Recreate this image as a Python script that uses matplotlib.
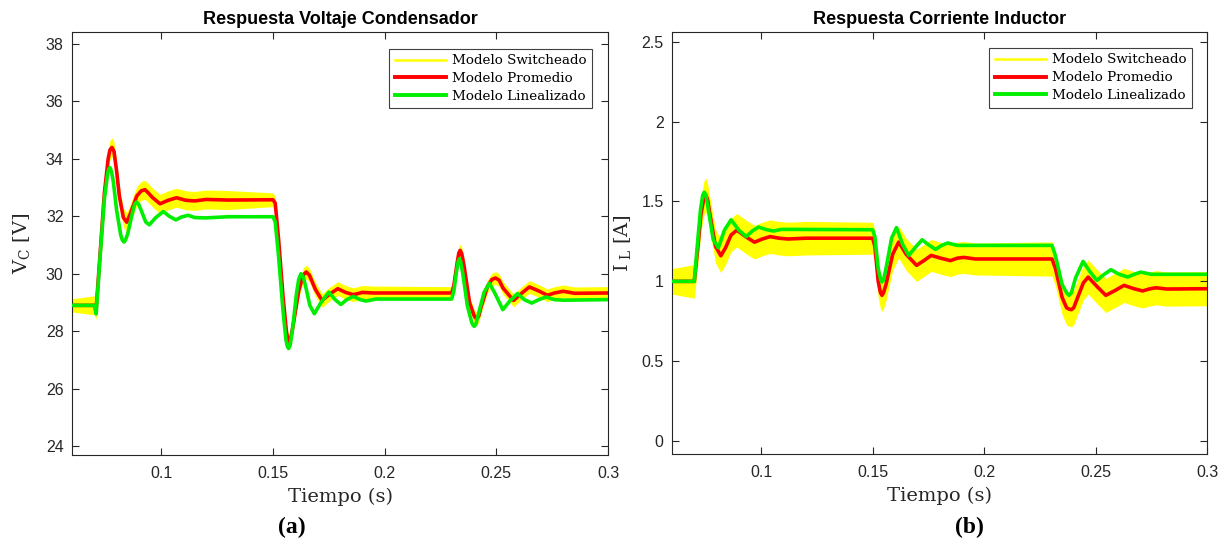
import numpy as np
import matplotlib
matplotlib.use("Agg")
import matplotlib.pyplot as plt
from matplotlib.lines import Line2D

# ---------------- Capacitor voltage V_C [V] ----------------
vc_prom_t = [0.060, 0.0700, 0.0708, 0.0725, 0.0745, 0.0762, 0.0770, 0.0779, 0.0788, 0.0800,
             0.0812, 0.0830, 0.0845, 0.0862, 0.0890, 0.0910, 0.0927, 0.0945, 0.0960, 0.0994,
             0.1030, 0.1068, 0.1110, 0.1150, 0.1200, 0.1300, 0.1500, 0.1510, 0.1525, 0.1545,
             0.1560, 0.1566, 0.1572, 0.1580, 0.1590, 0.1615, 0.1635, 0.1649, 0.1663, 0.1690,
             0.1720, 0.1755, 0.1790, 0.1825, 0.1860, 0.1900, 0.1950, 0.2300, 0.2310, 0.2325,
             0.2332, 0.2338, 0.2345, 0.2355, 0.2380, 0.2400, 0.2406, 0.2413, 0.2421, 0.2430,
             0.2460, 0.2480, 0.2496, 0.2512, 0.2530, 0.2577, 0.2610, 0.2648, 0.2690, 0.2729,
             0.2760, 0.2800, 0.2850, 0.3000]
vc_prom_v = [28.90, 28.90, 28.75, 30.60, 32.80, 34.00, 34.30, 34.39, 34.25, 33.55,
             32.70, 31.95, 31.79, 32.10, 32.70, 32.88, 32.92, 32.78, 32.65, 32.43,
             32.55, 32.64, 32.55, 32.53, 32.58, 32.56, 32.57, 32.45, 31.20, 29.20,
             28.00, 27.72, 27.63, 27.78, 28.20, 29.40, 29.95, 30.06, 29.95, 29.45,
             29.07, 29.30, 29.48, 29.35, 29.27, 29.35, 29.33, 29.33, 29.60, 30.40,
             30.72, 30.81, 30.70, 30.30, 29.00, 28.55, 28.47, 28.44, 28.52, 28.80,
             29.55, 29.80, 29.85, 29.78, 29.50, 29.07, 29.30, 29.54, 29.40, 29.25,
             29.33, 29.39, 29.32, 29.33]

vc_lin_t = [0.060, 0.0700, 0.0708, 0.0725, 0.0745, 0.0760, 0.0765, 0.0770, 0.0777, 0.0785,
            0.0800, 0.0818, 0.0826, 0.0833, 0.0840, 0.0850, 0.0870, 0.0880, 0.0889, 0.0898,
            0.0910, 0.0930, 0.0946, 0.0975, 0.1009, 0.1035, 0.1065, 0.1090, 0.1120, 0.1150,
            0.1200, 0.1300, 0.1500, 0.1510, 0.1525, 0.1545, 0.1558, 0.1564, 0.1570, 0.1577,
            0.1588, 0.1605, 0.1615, 0.1625, 0.1635, 0.1645, 0.1665, 0.1685, 0.1715, 0.1750,
            0.1778, 0.1804, 0.1830, 0.1860, 0.1890, 0.1917, 0.1960, 0.2300, 0.2310, 0.2322,
            0.2329, 0.2335, 0.2341, 0.2350, 0.2370, 0.2390, 0.2396, 0.2401, 0.2408, 0.2420,
            0.2445, 0.2469, 0.2495, 0.2529, 0.2560, 0.2595, 0.2625, 0.2659, 0.2690, 0.2723,
            0.2760, 0.2800, 0.3000]
vc_lin_v = [28.90, 28.90, 28.60, 30.50, 32.60, 33.50, 33.64, 33.69, 33.55, 33.20,
            32.20, 31.35, 31.16, 31.10, 31.18, 31.40, 32.10, 32.40, 32.49, 32.42,
            32.20, 31.80, 31.70, 31.95, 32.16, 32.00, 31.87, 31.97, 32.03, 31.95,
            31.94, 31.98, 31.98, 31.80, 30.60, 28.70, 27.70, 27.48, 27.40, 27.52,
            28.10, 29.30, 29.80, 30.00, 29.90, 29.60, 28.90, 28.61, 29.00, 29.36,
            29.10, 28.93, 29.10, 29.21, 29.10, 29.05, 29.12, 29.12, 29.40, 30.10,
            30.42, 30.52, 30.40, 30.00, 28.90, 28.30, 28.21, 28.17, 28.24, 28.60,
            29.35, 29.67, 29.30, 28.75, 29.05, 29.31, 29.10, 28.98, 29.10, 29.19,
            29.10, 29.08, 29.10]

# ---------------- Inductor current I_L [A] ----------------
il_prom_t = [0.060, 0.0700, 0.0715, 0.0730, 0.0743, 0.0751, 0.0759, 0.0770, 0.0795, 0.0819,
             0.0840, 0.0865, 0.0891, 0.0930, 0.0970, 0.1005, 0.1040, 0.1080, 0.1120, 0.1200,
             0.1500, 0.1510, 0.1525, 0.1535, 0.1542, 0.1549, 0.1560, 0.1590, 0.1617, 0.1650,
             0.1697, 0.1730, 0.1763, 0.1805, 0.1849, 0.1880, 0.1909, 0.1960, 0.2305, 0.2320,
             0.2350, 0.2370, 0.2382, 0.2392, 0.2402, 0.2420, 0.2445, 0.2467, 0.2505, 0.2546,
             0.2590, 0.2628, 0.2670, 0.2711, 0.2740, 0.2771, 0.2820, 0.3000]
il_prom_v = [1.000, 1.000, 1.200, 1.420, 1.520, 1.540, 1.515, 1.420, 1.220, 1.160,
             1.210, 1.290, 1.320, 1.280, 1.245, 1.265, 1.280, 1.270, 1.265, 1.270,
             1.270, 1.220, 1.000, 0.930, 0.9125, 0.930, 0.980, 1.170, 1.246, 1.170,
             1.100, 1.130, 1.1625, 1.145, 1.130, 1.145, 1.150, 1.140, 1.140, 1.080,
             0.900, 0.835, 0.826, 0.823, 0.835, 0.900, 0.990, 1.027, 0.970, 0.9125,
             0.945, 0.975, 0.955, 0.940, 0.952, 0.960, 0.952, 0.954]

il_lin_t = [0.060, 0.0700, 0.0712, 0.0728, 0.0738, 0.0745, 0.0752, 0.0763, 0.0785, 0.0808,
            0.0835, 0.0865, 0.0900, 0.0933, 0.0960, 0.0988, 0.1020, 0.1055, 0.1090, 0.1150,
            0.1500, 0.1510, 0.1525, 0.1536, 0.1542, 0.1549, 0.1560, 0.1585, 0.1607, 0.1635,
            0.1662, 0.1690, 0.1722, 0.1750, 0.1782, 0.1810, 0.1837, 0.1880, 0.2305, 0.2320,
            0.2350, 0.2372, 0.2381, 0.2392, 0.2410, 0.2444, 0.2475, 0.2506, 0.2535, 0.2569,
            0.2605, 0.2644, 0.2675, 0.2703, 0.2750, 0.3000]
il_lin_v = [1.000, 1.000, 1.200, 1.450, 1.540, 1.558, 1.540, 1.450, 1.260, 1.210,
            1.320, 1.385, 1.320, 1.280, 1.315, 1.340, 1.325, 1.315, 1.325, 1.325,
            1.323, 1.280, 1.080, 1.010, 0.996, 1.010, 1.080, 1.270, 1.336, 1.230,
            1.1625, 1.210, 1.260, 1.230, 1.200, 1.225, 1.240, 1.225, 1.225, 1.160,
            0.980, 0.925, 0.9125, 0.930, 1.020, 1.125, 1.060, 1.006, 1.040, 1.073,
            1.045, 1.027, 1.045, 1.058, 1.044, 1.044]

# Switching ripple (half peak-to-peak) of the switched model, per operating interval
ripple_edges = [0.07, 0.15, 0.23]
vc_ripple = [0.23, 0.33, 0.24, 0.22]
il_ripple = [0.08, 0.105, 0.10, 0.107]

xticks = [0.1, 0.15, 0.2, 0.25, 0.3]
xtick_labels = ["0.1", "0.15", "0.2", "0.25", "0.3"]
vc_yticks = [24, 26, 28, 30, 32, 34, 36, 38]
il_yticks = [0, 0.5, 1, 1.5, 2, 2.5]
il_ytick_labels = ["0", "0.5", "1", "1.5", "2", "2.5"]

legend_labels = ["Modelo Switcheado", "Modelo Promedio", "Modelo Linealizado"]

YELLOW = "#ffff00"
RED = "#ff0000"
GREEN = "#00ee00"
AXC = "#262626"
SANS = "Liberation Sans"
SERIF = "DejaVu Serif"

plt.rcParams["font.family"] = [SANS, "DejaVu Sans"]
plt.rcParams["mathtext.default"] = "regular"


def switched_band(ax, t, v, ripple):
    t = np.asarray(t)
    v = np.asarray(v)
    r = np.asarray(ripple)[np.searchsorted(ripple_edges, t, side="right")]
    ax.fill_between(t, v - r, v + r, color=YELLOW, lw=0, zorder=1)


def style_axes(ax, title, ylabel, ylim, yticks, yticklabels, legend_anchor, ylabelpad):
    ax.set_xlim(0.06, 0.3)
    ax.set_ylim(*ylim)
    ax.set_xticks(xticks)
    ax.set_xticklabels(xtick_labels)
    ax.set_yticks(yticks)
    ax.set_yticklabels(yticklabels)
    ax.tick_params(direction="in", top=True, right=True, length=5, width=0.8,
                   colors=AXC, labelsize=11.5)
    ax.tick_params(axis="x", pad=8)
    ax.tick_params(axis="y", pad=6)
    for s in ax.spines.values():
        s.set_color(AXC)
        s.set_linewidth(0.8)
    ax.set_title(title, fontweight="bold", fontsize=13, family=SANS, color="black", pad=6)
    ax.set_xlabel("Tiempo (s)", family=SERIF, fontsize=14, color="#262626", labelpad=5)
    ax.set_ylabel(ylabel, family=SERIF, fontsize=14, color="#262626", labelpad=ylabelpad)
    handles = [Line2D([], [], color=YELLOW, lw=1.8),
               Line2D([], [], color=RED, lw=2.8),
               Line2D([], [], color=GREEN, lw=2.8)]
    leg = ax.legend(handles, legend_labels, loc="upper right", bbox_to_anchor=legend_anchor,
                    borderaxespad=0, prop={"family": SERIF, "size": 9.7},
                    frameon=True, fancybox=False, framealpha=1, edgecolor="#404040",
                    handlelength=3.8, handletextpad=0.45, labelspacing=0.36,
                    borderpad=0.4)
    leg.get_frame().set_linewidth(0.8)


fig = plt.figure(figsize=(12.28, 5.44), dpi=100)
ax1 = fig.add_axes([72 / 1228, 89 / 544, 536 / 1228, 423 / 544])
ax2 = fig.add_axes([672 / 1228, 90 / 544, 535 / 1228, 422 / 544])

# Capacitor voltage
switched_band(ax1, vc_prom_t, vc_prom_v, vc_ripple)
ax1.plot(vc_prom_t, vc_prom_v, color=RED, lw=2.6, zorder=2, solid_joinstyle="round")
ax1.plot(vc_lin_t, vc_lin_v, color=GREEN, lw=2.6, zorder=3, solid_joinstyle="round")
style_axes(ax1, "Respuesta Voltaje Condensador", "V$_{C}$ [V]", (23.7, 38.4),
           vc_yticks, [str(v) for v in vc_yticks], (0.970, 0.960), 10)

# Inductor current
switched_band(ax2, il_prom_t, il_prom_v, il_ripple)
ax2.plot(il_prom_t, il_prom_v, color=RED, lw=2.6, zorder=2, solid_joinstyle="round")
ax2.plot(il_lin_t, il_lin_v, color=GREEN, lw=2.6, zorder=3, solid_joinstyle="round")
style_axes(ax2, "Respuesta Corriente Inductor", "I$_{\\ L}$ [A]", (-0.08, 2.56),
           il_yticks, il_ytick_labels, (0.972, 0.962), 6)

fig.text(292 / 1228, 1 - 527 / 544, "(a)", family="Liberation Serif", fontweight="bold",
         fontsize=17, ha="center", va="center")
fig.text(969 / 1228, 1 - 527 / 544, "(b)", family="Liberation Serif", fontweight="bold",
         fontsize=17, ha="center", va="center")

fig.savefig("out.png", dpi=100, facecolor="white")
